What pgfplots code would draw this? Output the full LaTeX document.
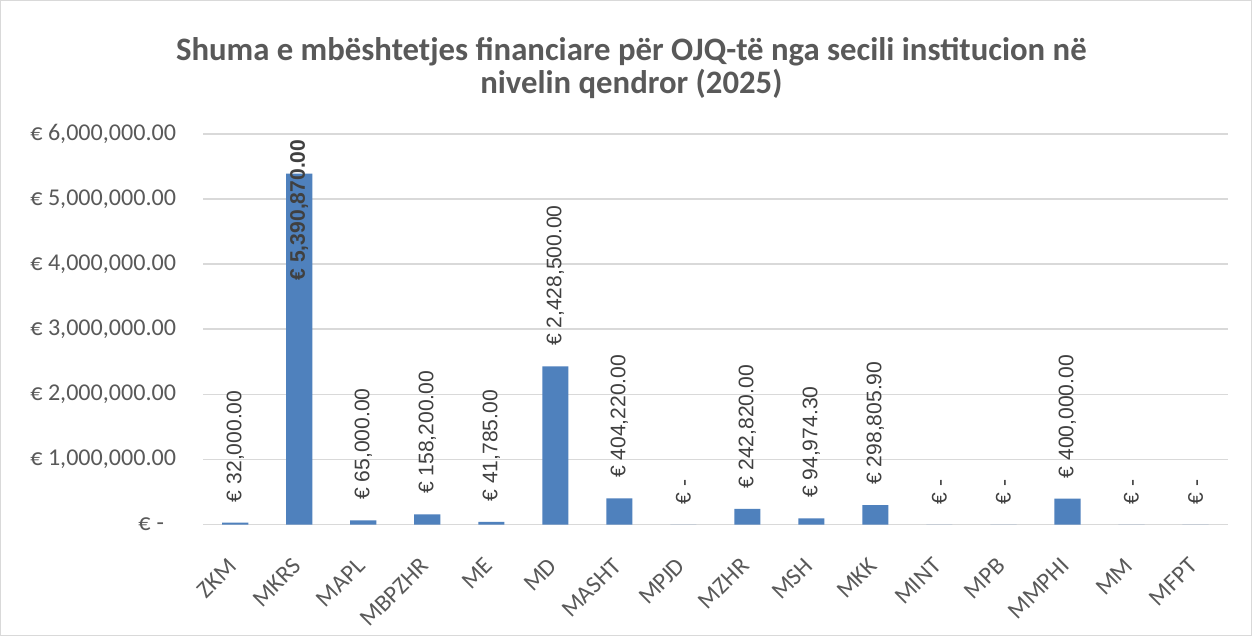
\documentclass[border=0pt]{standalone}
\usepackage{pgfplots}
\usepackage{pgfplotstable}
\pgfplotsset{compat=1.18}
\usepackage{fontspec}
\setmainfont{Carlito}
\newfontfamily\arialf{Liberation Sans}
\definecolor{barblue}{RGB}{79,129,189}
\definecolor{txtgray}{RGB}{89,89,89}
\definecolor{lblgray}{RGB}{64,64,64}
\definecolor{gridgray}{RGB}{217,217,217}

\pgfplotstableread[col sep=semicolon]{
x;y;label;name
0;32000;€ 32,000.00;ZKM
1;5390870;{};MKRS
2;65000;€ 65,000.00;MAPL
3;158200;€ 158,200.00;MBPZHR
4;41785;€ 41,785.00;ME
5;2428500;€ 2,428,500.00;MD
6;404220;€ 404,220.00;MASHT
7;0;€ -;MPJD
8;242820;€ 242,820.00;MZHR
9;94974.30;€ 94,974.30;MSH
10;298805.90;€ 298,805.90;MKK
11;0;€ -;MINT
12;0;€ -;MPB
13;400000;€ 400,000.00;MMPHI
14;0;€ -;MM
15;0;€ -;MFPT
}\data

\begin{document}
\begin{tikzpicture}
\draw[gridgray, fill=white] (-101pt,-55pt) rectangle (522pt,261pt);
\begin{axis}[
  at={(0,0)}, anchor=south west,
  scale only axis, width=510pt, height=194.5pt,
  xmin=-0.5, xmax=15.5, ymin=0, ymax=6000000,
  scaled y ticks=false,
  axis x line*=bottom, axis y line*=left,
  x axis line style={gridgray, line width=0.8pt, -},
  y axis line style={draw=none},
  xtick=data, xticklabels from table={\data}{name},
  ytick={0,1000000,2000000,3000000,4000000,5000000,6000000},
  yticklabels={{€\hspace{3pt}-\kern6pt}, {€ 1,000,000.00}, {€ 2,000,000.00}, {€ 3,000,000.00}, {€ 4,000,000.00}, {€ 5,000,000.00}, {€ 6,000,000.00}},
  ymajorgrids, grid style={gridgray, line width=0.8pt},
  major tick length=0pt,
  tick label style={font=\fontsize{12}{14}\selectfont, text=txtgray},
  x tick label style={xshift=-4pt, yshift=-11pt, rotate=45, anchor=north east},
  y tick label style={xshift=-10pt},
  title={Shuma e mbështetjes financiare për OJQ-të nga secili institucion në\\nivelin qendror (2025)},
  title style={at={(axis description cs:0.418,1)}, anchor=south, yshift=8pt,
    align=center, font=\bfseries\fontsize{16.3}{16.5}\selectfont, text=txtgray},
  point meta=explicit symbolic,
  nodes near coords,
  every node near coord/.append style={rotate=90, anchor=west, inner sep=0pt, xshift=10pt,
    font=\arialf\fontsize{10.5}{12}\selectfont, text=lblgray},
  clip=false,
]
\addplot[ybar, bar width=13pt, fill=barblue, draw=none] table[x=x, y=y, meta=label] {\data};
\node[rotate=90, anchor=east, inner sep=0pt, font=\arialf\bfseries\fontsize{10.5}{12}\selectfont, text=lblgray]
  at (axis cs:1,5920000) {€ 5,390,870.00};
\end{axis}
\end{tikzpicture}
\end{document}
